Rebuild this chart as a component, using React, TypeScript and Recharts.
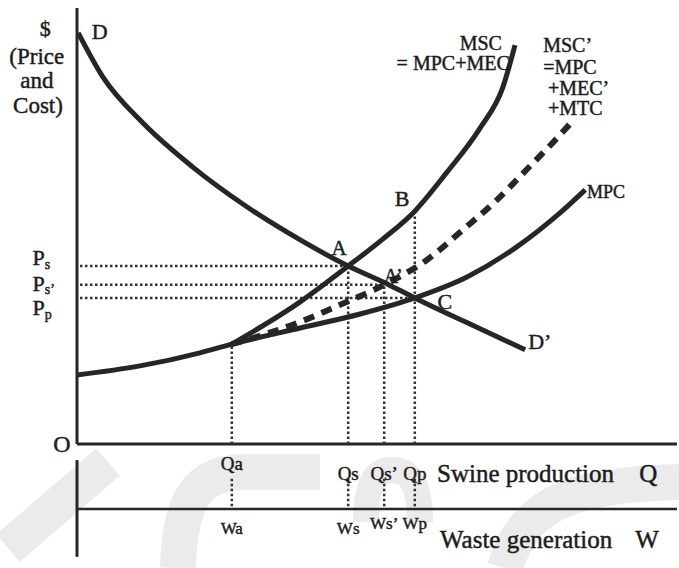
import React from "react";
import {
  ComposedChart,
  Line,
  XAxis,
  YAxis,
  ReferenceLine,
  ReferenceDot,
} from "recharts";

// curves (x = output Q, y = $)
const demand = [
  { x: 0.2, y: 94.3 },
  { x: 4.3, y: 84.2 },
  { x: 11, y: 73.6 },
  { x: 19.3, y: 63.5 },
  { x: 28.3, y: 54.4 },
  { x: 37.2, y: 46.8 },
  { x: 45.2, y: 40.8 },
  { x: 51.7, y: 36.7 },
  { x: 56.3, y: 33.5 },
  { x: 65.5, y: 27.5 },
  { x: 74.7, y: 21.6 },
];

const mpc = [
  { x: 0, y: 15.8 },
  { x: 10.5, y: 17.9 },
  { x: 20.5, y: 20.9 },
  { x: 25.8, y: 22.9 },
  { x: 37.2, y: 26.6 },
  { x: 47.2, y: 29.8 },
  { x: 56.3, y: 33.5 },
  { x: 65, y: 38.3 },
  { x: 73.3, y: 45.2 },
  { x: 80.5, y: 53 },
  { x: 84.7, y: 58.3 },
];

const msc = [
  { x: 25.8, y: 22.9 },
  { x: 37.2, y: 32.6 },
  { x: 45.2, y: 40.8 },
  { x: 50.8, y: 46.8 },
  { x: 56.3, y: 53.4 },
  { x: 61.7, y: 62.4 },
  { x: 67.2, y: 72.5 },
  { x: 71, y: 81.9 },
  { x: 73, y: 91.5 },
];

const mscPrime = [
  { x: 25.8, y: 22.9 },
  { x: 30.5, y: 24.8 },
  { x: 37.2, y: 28 },
  { x: 43.8, y: 31.9 },
  { x: 51.2, y: 36.5 },
  { x: 58.3, y: 42.2 },
  { x: 64.3, y: 49.1 },
  { x: 70, y: 56 },
  { x: 75.2, y: 63.3 },
  { x: 79.7, y: 69.7 },
  { x: 82.5, y: 73.9 },
];

// Qa, Qs, Qs', Qp and the curve height each guide runs up to
const quantities = [25.8, 45.2, 51.2, 56.3];
const guideTops = [22.9, 40.8, 36.5, 53.4];
const qLabels = ["Qa", "Qs", "Qs\u2019", "Qp"];
const wLabels = ["Wa", "Ws", "Ws\u2019", "Wp"];

// Ps, Ps', Pp and where each one meets its point
const prices = [40.8, 36.5, 33.5];
const priceEnds = [45.2, 51.2, 56.3];
const priceSubs = ["s", "s\u2019", "p"];

const serif = '"Liberation Serif", "DejaVu Serif", serif';
const ink = "#262626";

function note(
  key: string,
  x: number,
  y: number,
  text: React.ReactNode,
  size = 20,
  anchor: "start" | "middle" | "end" = "middle"
) {
  return (
    <ReferenceDot
      key={key}
      x={x}
      y={y}
      r={0}
      ifOverflow="visible"
      shape={(p: any) => (
        <text
          x={p.cx}
          y={p.cy}
          textAnchor={anchor}
          dominantBaseline="central"
          fontFamily={serif}
          fontSize={size}
          fill="#1c1c1c"
          stroke="#1c1c1c"
          strokeWidth={0.45}
        >
          {text}
        </text>
      )}
    />
  );
}

const dots = { stroke: "#333", strokeWidth: 2.5, strokeDasharray: "2.5 2.5" };

export default function App() {
  return (
    <div style={{ position: "absolute", left: 0, top: 0, width: 679, height: 568, background: "#fff" }}>
      <svg
        width={679}
        height={568}
        style={{ position: "absolute", left: 0, top: 0, zIndex: 0 }}
      >
        <g fill="none" stroke="#ebebeb" strokeWidth={36}>
          <path d="M 8 548 L 108 462" />
          <path d="M 178 568 C 180 500 196 472 246 472 L 320 472" />
          <path d="M 366 522 C 366 480 378 470 392 470 C 408 470 420 480 420 522" strokeWidth={26} />
          <path d="M 505 568 C 522 508 565 484 679 482" />
        </g>
      </svg>
      <div style={{ position: "absolute", left: 0, top: 0, zIndex: 1 }}>
        <ComposedChart
          width={679}
          height={568}
          margin={{ top: 8, right: 2, bottom: 2, left: 5 }}
        >
          <XAxis dataKey="x" type="number" domain={[-12, 100]} hide allowDataOverflow />
          <YAxis dataKey="y" type="number" domain={[-28, 100]} hide allowDataOverflow />

          {/* axes */}
          <ReferenceLine segment={[{ x: 0, y: 0 }, { x: 0, y: 100 }]} stroke={ink} strokeWidth={3} />
          <ReferenceLine segment={[{ x: 0, y: 0 }, { x: 100, y: 0 }]} stroke={ink} strokeWidth={3} />
          <ReferenceLine segment={[{ x: 0, y: -3.7 }, { x: 0, y: -25.9 }]} stroke={ink} strokeWidth={3} />
          <ReferenceLine segment={[{ x: 0, y: -14.9 }, { x: 100, y: -14.9 }]} stroke={ink} strokeWidth={2.5} />

          {/* dotted guides */}
          {prices.map((p, i) => (
            <ReferenceLine
              key={"p" + i}
              segment={[{ x: 0.5, y: p }, { x: priceEnds[i], y: p }]}
              {...dots}
            />
          ))}
          {quantities.map((q, i) => (
            <ReferenceLine
              key={"q" + i}
              segment={[{ x: q, y: 0 }, { x: q, y: guideTops[i] }]}
              {...dots}
            />
          ))}
          {quantities.map((q, i) => (
            <ReferenceLine
              key={"w" + i}
              segment={[{ x: q, y: -8 }, { x: q, y: -14.9 }]}
              {...dots}
            />
          ))}

          <Line data={mpc} dataKey="y" type="monotone" stroke={ink} strokeWidth={5} dot={false} isAnimationActive={false} />
          <Line data={demand} dataKey="y" type="monotone" stroke={ink} strokeWidth={5} dot={false} isAnimationActive={false} />
          <Line data={msc} dataKey="y" type="monotone" stroke={ink} strokeWidth={5} dot={false} isAnimationActive={false} />
          <Line
            data={mscPrime}
            dataKey="y"
            type="monotone"
            stroke={ink}
            strokeWidth={6}
            strokeDasharray="11 8"
            dot={false}
            isAnimationActive={false}
          />

          {note("dollar", -5.3, 95.2, "$", 22)}
          {note("price", -6.7, 88.9, "(Price", 23)}
          {note("and", -6.7, 83.3, "and", 23)}
          {note("cost", -6.5, 77.6, "Cost)", 23)}
          {note("O", -2.5, 0, "O", 24)}
          {note("D", 3.8, 94.5, "D", 22)}
          {note("Dp", 75.2, 23.4, "D\u2019", 22, "start")}
          {note("msc1", 67.3, 92, "MSC", 20)}
          {note("msc2", 62.7, 87.4, "= MPC+MEC", 20)}
          {note("msp1", 77.7, 91.5, "MSC\u2019", 20, "start")}
          {note("msp2", 77.7, 86.5, "=MPC", 20, "start")}
          {note("msp3", 78.5, 81.7, "+MEC\u2019", 20, "start")}
          {note("msp4", 78.5, 77.1, "+MTC", 20, "start")}
          {note("mpc", 85, 57.8, "MPC", 18, "start")}
          {note("B", 54.2, 56.4, "B", 22)}
          {note("A", 43.7, 45, "A", 21)}
          {note("Ap", 52.7, 38.5, "A\u2019", 20)}
          {note("C", 61.3, 32.6, "C", 22)}

          {prices.map((p, i) =>
            note(
              "P" + i,
              -7.4,
              [42.7, 36.9, 31.2][i],
              <>
                P<tspan fontSize={14} dy={6}>{priceSubs[i]}</tspan>
              </>,
              22,
              "start"
            )
          )}

          {qLabels.map((t, i) => note("ql" + i, quantities[i], i === 0 ? -4.6 : -6.7, t, 19))}
          {wLabels.map((t, i) => note("wl" + i, quantities[i], i < 2 ? -19.3 : -18.3, t, 17))}
          {note("swine", 60, -6.7, "Swine production", 25, "start")}
          {note("Q", 95.2, -6.7, "Q", 25)}
          {note("waste", 60.5, -22, "Waste generation", 25, "start")}
          {note("W", 95, -22, "W", 25)}
        </ComposedChart>
      </div>
    </div>
  );
}
